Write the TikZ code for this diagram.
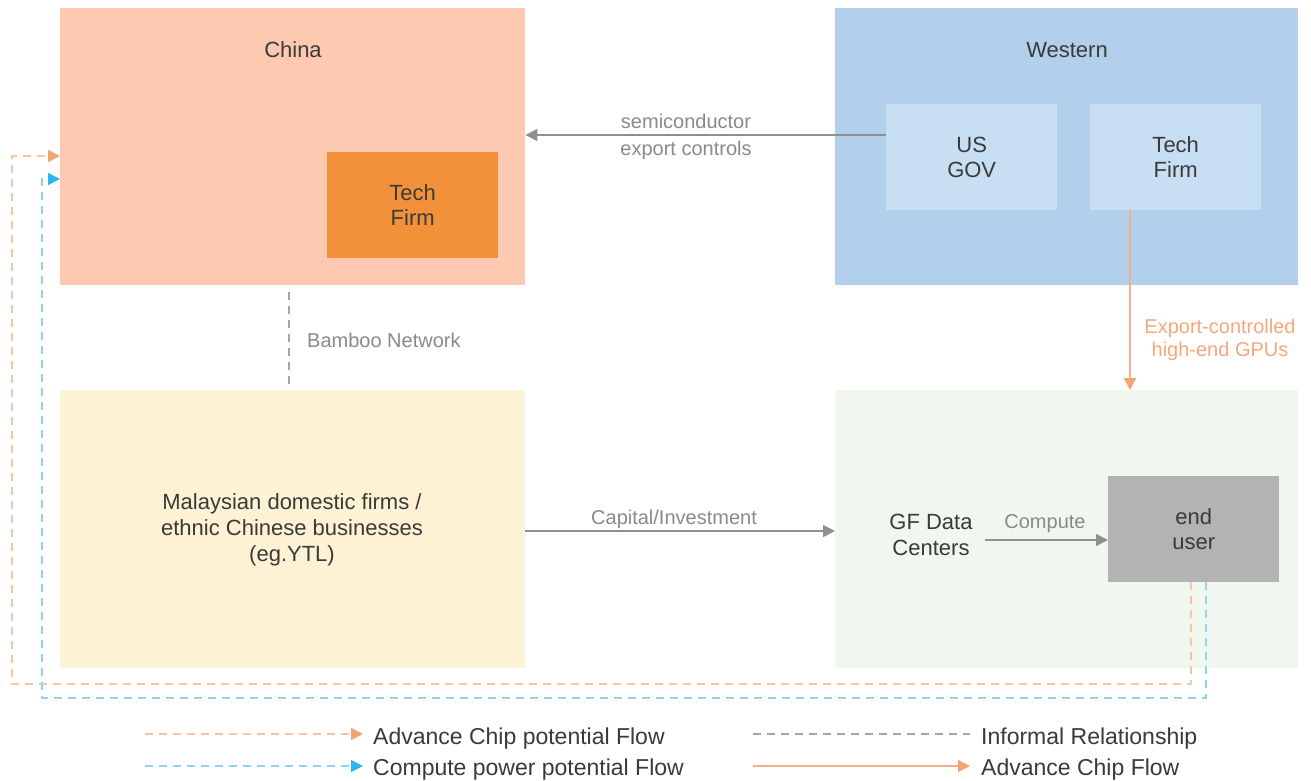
\documentclass[tikz,border=0pt]{standalone}
\usepackage{fontspec}
\setmainfont{Liberation Sans}
\usetikzlibrary{arrows.meta}
\definecolor{chinabg}{HTML}{FDC9B0}
\definecolor{chinafirm}{HTML}{F3903A}
\definecolor{westbg}{HTML}{B2D0EC}
\definecolor{westin}{HTML}{C8DEF3}
\definecolor{malaybg}{HTML}{FDF2D3}
\definecolor{gfbg}{HTML}{F1F6EF}
\definecolor{userbg}{HTML}{B3B3B3}
\definecolor{txt}{HTML}{3A3A3A}
\definecolor{lbl}{HTML}{8A8A8A}
\definecolor{linegray}{HTML}{8F8F8F}
\definecolor{chipline}{HTML}{F5B08A}
\definecolor{chiplbl}{HTML}{F4A87C}
\definecolor{chipdash}{HTML}{F8C4A6}
\definecolor{chiptip}{HTML}{F0A674}
\definecolor{cpdash}{HTML}{8FD3F7}
\definecolor{cptip}{HTML}{2FB5F5}
\begin{document}
\begin{tikzpicture}[x=1pt,y=-1pt,
  region/.style={draw=none,inner sep=0pt,anchor=north west},
  inbox/.style={draw=none,inner sep=0pt,anchor=north west,minimum width=171pt,minimum height=106pt,
    align=center,text=txt,font=\fontsize{22}{25.5}\selectfont},
  title/.style={text=txt,font=\fontsize{22}{26}\selectfont,inner sep=0pt,align=center},
  edgelbl/.style={text=lbl,font=\fontsize{20}{27}\selectfont,inner sep=0pt,align=center},
  tip/.style={-{Triangle[length=12pt,width=12pt]}},
  grayflow/.style={tip,draw=linegray,line width=1.6pt},
  chipflow/.style={tip,draw=chipline,line width=1.6pt,-{Triangle[length=12pt,width=12pt,fill=chiptip,color=chiptip]}},
  chipdashed/.style={draw=chipdash,line width=1.6pt,dash pattern=on 8pt off 6pt,
    -{Triangle[length=12pt,width=12pt,fill=chiptip,color=chiptip]}},
  cpdashed/.style={draw=cpdash,line width=1.6pt,dash pattern=on 8pt off 6pt,
    -{Triangle[length=12pt,width=12pt,fill=cptip,color=cptip]}},
  informal/.style={draw=linegray!80,line width=1.4pt,dash pattern=on 8pt off 6pt},
  legtxt/.style={text=txt,font=\fontsize{23}{26}\selectfont,inner sep=0pt,anchor=west}
]
\useasboundingbox[fill=white] (0,0) rectangle (1311,781);

% regions
\node[region,fill=chinabg,minimum width=465pt,minimum height=277pt] (china) at (60,8) {};
\node[region,fill=westbg,minimum width=463pt,minimum height=277pt] (west) at (835,8) {};
\node[region,fill=malaybg,minimum width=465pt,minimum height=278pt] (malay) at (60,390) {};
\node[region,fill=gfbg,minimum width=463pt,minimum height=278pt] (gf) at (835,390) {};

\node[title] (chinat) at (293,50) {China};
\node[title] (westt) at (1067,50) {Western};

% inner boxes
\node[inbox,fill=chinafirm] (techc) at (327,152) {\raisebox{2pt}{\parbox{171pt}{\centering Tech\\Firm}}};
\node[inbox,fill=westin] (usgov) at (886,104) {\raisebox{1pt}{\parbox{171pt}{\centering US\\GOV}}};
\node[inbox,fill=westin] (techw) at (1090,104) {\raisebox{2pt}{\parbox{171pt}{\centering Tech\\Firm}}};
\node[inbox,fill=userbg] (enduser) at (1108,476) {\raisebox{2.5pt}{\parbox{171pt}{\centering end\\user}}};

\node[title] (malayt) at (292,530) {Malaysian domestic firms /\\ethnic Chinese businesses\\(eg.YTL)};
\node[title] (gfdc) at (931,535) {GF Data\\Centers};

% export controls
\draw[grayflow] (usgov.west |- 0,135) -- (china.east |- 0,135);
\node[edgelbl] (semil) at (686,136.5) {semiconductor\\export controls};

% bamboo network
\draw[informal] (289,292) -- (malay.north -| 289,0);
\node[edgelbl,anchor=west] (bamboo) at (307,340) {Bamboo Network};

% capital
\draw[grayflow] (malay.east |- 0,531) -- (gf.west |- 0,531);
\node[edgelbl] (capl) at (674,519) {Capital/Investment};

% compute
\draw[grayflow] (985,540) -- (enduser.west |- 0,540);
\node[edgelbl] (compl) at (1045,523.5) {Compute};

% export-controlled GPUs
\draw[chipflow] (techw.south -| 1130,0) -- (gf.north -| 1130,0);
\node[edgelbl,text=chiplbl,font=\fontsize{20}{23}\selectfont] (gpul) at (1220,340) {Export-controlled\\high-end GPUs};

% potential flows back to China
\coordinate (chipcorner) at (12,684);
\coordinate (cpcorner) at (42,698);
\draw[chipdashed] (enduser.south -| 1191,0) |- (chipcorner) |- (china.west |- 0,156);
\draw[cpdashed] (enduser.south -| 1206,0) |- (cpcorner) |- (china.west |- 0,179);

% legend
\coordinate (l1a) at (145,734); \coordinate (l1b) at (363,734);
\coordinate (l2a) at (145,766); \coordinate (l2b) at (363,766);
\coordinate (l3a) at (753,734); \coordinate (l3b) at (970,734);
\coordinate (l4a) at (753,766); \coordinate (l4b) at (970,766);
\draw[chipdashed] (l1a) -- (l1b);
\draw[cpdashed] (l2a) -- (l2b);
\draw[informal] (l3a) -- (l3b);
\draw[chipflow] (l4a) -- (l4b);
\node[legtxt] (leg1) at (373,738.5) {Advance Chip potential Flow};
\node[legtxt] (leg2) at (373,769.5) {Compute power potential Flow};
\node[legtxt] (leg3) at (981,738.5) {Informal Relationship};
\node[legtxt] (leg4) at (981,769.5) {Advance Chip Flow};
\end{tikzpicture}
\end{document}
